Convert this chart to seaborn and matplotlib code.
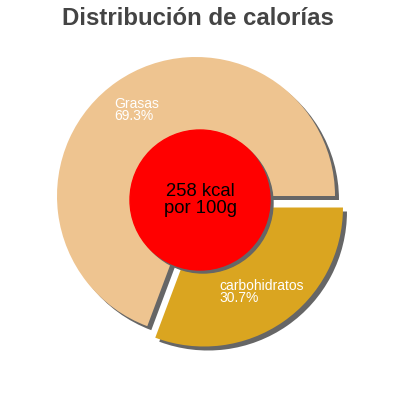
import seaborn as sns
import matplotlib.pyplot as plt
from matplotlib.patches import Circle

# datos
labels = ["Grasas", "carbohidratos"]
percent = [69.3, 30.7]
colors = ["#EEC490", "#DAA520"]
kcal = 258

sns.set_style("white")
plt.rcParams["font.family"] = ["Liberation Sans", "DejaVu Sans"]

fig = plt.figure(figsize=(4, 4), dpi=100)
ax = fig.add_axes([0, 0, 1, 1])

cx, cy, r = 196, 204, 139
explode = [0, 14]  # en unidades de datos (pixeles)

# sombra
ax.pie(percent, radius=r, center=(cx + 4, cy - 4), startangle=0,
       explode=explode, colors=["#666666"] * 2, frame=True,
       wedgeprops=dict(linewidth=0, zorder=1))
wedges, _ = ax.pie(percent, radius=r, center=(cx, cy), startangle=0,
                   explode=explode, colors=colors, frame=True,
                   wedgeprops=dict(linewidth=0, zorder=2))
ax.set_xlim(0, 400)
ax.set_ylim(0, 400)
ax.set_aspect("equal")
ax.axis("off")

# etiquetas
label_pos = [(114, 303), (219, 121)]
for lab, p, (x, y) in zip(labels, percent, label_pos):
    ax.text(x, y, f"{lab}\n{p}%", color="white", fontsize=10,
            ha="left", va="top", linespacing=0.8, zorder=5)

# circulo central
ax.add_patch(Circle((203, 197), 70, color="#666666", zorder=3))
ax.add_patch(Circle((200, 200), 70, color="#FF0000", zorder=4))
ax.text(200, 200, f"{kcal} kcal\npor 100g", ha="center", va="center",
        fontsize=13.3, color="black", linespacing=0.95, zorder=5)

fig.text(0.495, 0.9375, "Distribución de calorías", ha="center",
         va="baseline", fontsize=17.3, fontweight="bold", color="#444444")

fig.savefig("out.png", dpi=100)
